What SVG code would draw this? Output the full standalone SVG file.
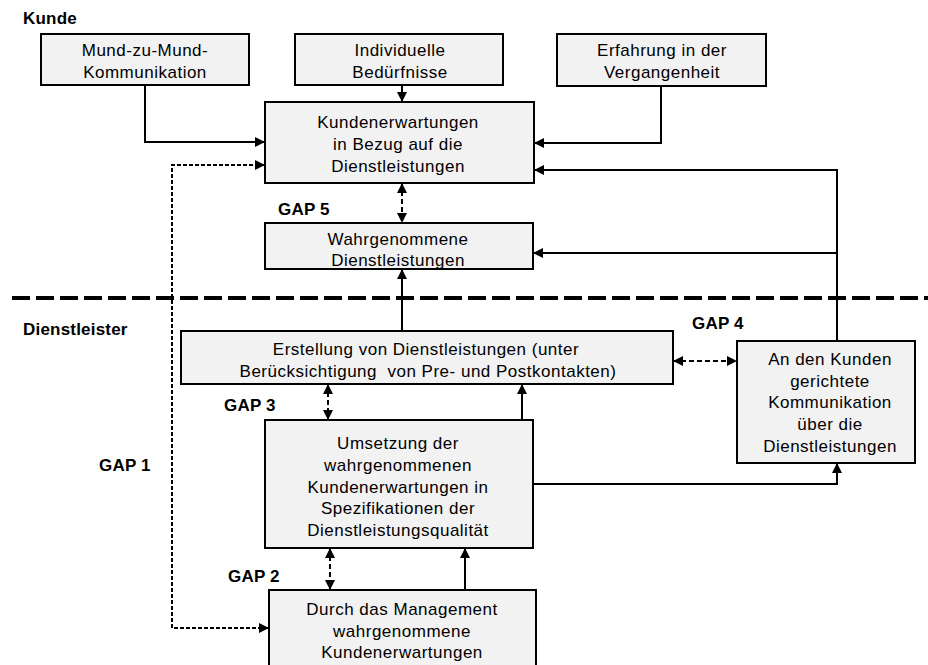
<svg xmlns="http://www.w3.org/2000/svg" width="928" height="665" viewBox="0 0 928 665">
<style>
  .box { fill: #f2f2f2; stroke: #000; stroke-width: 2; }
  .t { font-family: "Liberation Sans", Arial, sans-serif; font-size: 17px; letter-spacing: 0.5px; fill: #000; text-anchor: middle; }
  .lbl { font-family: "Liberation Sans", Arial, sans-serif; font-size: 17px; font-weight: bold; letter-spacing: 0.2px; fill: #000; }
  .c { fill: none; stroke: #000; stroke-width: 2; }
  .solid { marker-end: url(#arrow); }
  .dash { stroke-dasharray: 5 3; marker-start: url(#arrow); marker-end: url(#arrow); }
  .fine { stroke-dasharray: 4 2; }
  .divider { fill: none; stroke: #000; stroke-width: 4; stroke-dasharray: 18 6; }
</style>
<defs>
  <marker id="arrow" viewBox="0 0 10 10" refX="10" refY="5" markerWidth="10" markerHeight="10" markerUnits="userSpaceOnUse" orient="auto-start-reverse">
    <path d="M0,0 L10,5 L0,10 z" fill="#000"/>
  </marker>
</defs>
<rect width="928" height="665" fill="#fff"/>

<text class="lbl" x="23" y="24">Kunde</text>
<text class="lbl" x="23" y="335">Dienstleister</text>
<line class="divider" x1="12" y1="298" x2="928" y2="298"/>

<g id="connectors">
  <path class="c solid" d="M145,85 V142 H265"/>
  <path class="c solid" d="M402,85 V102"/>
  <path class="c solid" d="M661,86 V143 H534"/>
  <path class="c solid" d="M837,341 V170 H534"/>
  <path class="c solid" d="M837,253 H533"/>
  <path class="c dash" d="M402,183 V223"/>
  <path class="c solid" d="M402,331 V269"/>
  <path class="c dash" d="M673,361 H737"/>
  <path class="c dash" d="M328,384 V420"/>
  <path class="c solid" d="M522,420 V384"/>
  <path class="c solid" d="M533,484 H837 V463"/>
  <path class="c dash" d="M330,548 V590"/>
  <path class="c solid" d="M465,590 V548"/>
  <path class="c dash fine" d="M265,165 H172 V628 H269"/>
</g>

<g id="gap-labels">
  <text class="lbl" x="278" y="215">GAP 5</text>
  <text class="lbl" x="692" y="329">GAP 4</text>
  <text class="lbl" x="224" y="411">GAP 3</text>
  <text class="lbl" x="99" y="471">GAP 1</text>
  <text class="lbl" x="228" y="582">GAP 2</text>
</g>

<g id="mund">
  <rect class="box" x="41" y="34" width="208" height="51"/>
  <text class="t" x="145" y="56">Mund-zu-Mund-</text>
  <text class="t" x="145" y="78">Kommunikation</text>
</g>

<g id="beduerfnisse">
  <rect class="box" x="295" y="34" width="208" height="51"/>
  <text class="t" x="400" y="56">Individuelle</text>
  <text class="t" x="400" y="78">Bedürfnisse</text>
</g>

<g id="erfahrung">
  <rect class="box" x="557" y="34" width="209" height="52"/>
  <text class="t" x="662" y="56">Erfahrung in der</text>
  <text class="t" x="662" y="78">Vergangenheit</text>
</g>

<g id="erwartungen">
  <rect class="box" x="265" y="102" width="269" height="81"/>
  <text class="t" x="398" y="128">Kundenerwartungen</text>
  <text class="t" x="398" y="150">in Bezug auf die</text>
  <text class="t" x="398" y="172">Dienstleistungen</text>
</g>

<g id="wahrgenommen">
  <rect class="box" x="265" y="223" width="268" height="46"/>
  <text class="t" x="398" y="245">Wahrgenommene</text>
  <text class="t" x="398" y="266">Dienstleistungen</text>
</g>

<g id="erstellung">
  <rect class="box" x="181" y="331" width="492" height="53"/>
  <text class="t" x="426" y="355">Erstellung von Dienstleistungen (unter</text>
  <text class="t" x="428" y="377" xml:space="preserve">Berücksichtigung  von Pre- und Postkontakten)</text>
</g>

<g id="kommunikation">
  <rect class="box" x="737" y="341" width="178" height="122"/>
  <text class="t" x="830" y="365">An den Kunden</text>
  <text class="t" x="830" y="386.5">gerichtete</text>
  <text class="t" x="830" y="408">Kommunikation</text>
  <text class="t" x="830" y="430">über die</text>
  <text class="t" x="830" y="451.5">Dienstleistungen</text>
</g>

<g id="umsetzung">
  <rect class="box" x="265" y="420" width="268" height="128"/>
  <text class="t" x="398" y="449">Umsetzung der</text>
  <text class="t" x="398" y="471">wahrgenommenen</text>
  <text class="t" x="398" y="492.5">Kundenerwartungen in</text>
  <text class="t" x="398" y="514">Spezifikationen der</text>
  <text class="t" x="398" y="536">Dienstleistungsqualität</text>
</g>

<g id="management">
  <rect class="box" x="269" y="590" width="267" height="84"/>
  <text class="t" x="402" y="615">Durch das Management</text>
  <text class="t" x="402" y="636.5">wahrgenommene</text>
  <text class="t" x="402" y="658">Kundenerwartungen</text>
</g>
</svg>
